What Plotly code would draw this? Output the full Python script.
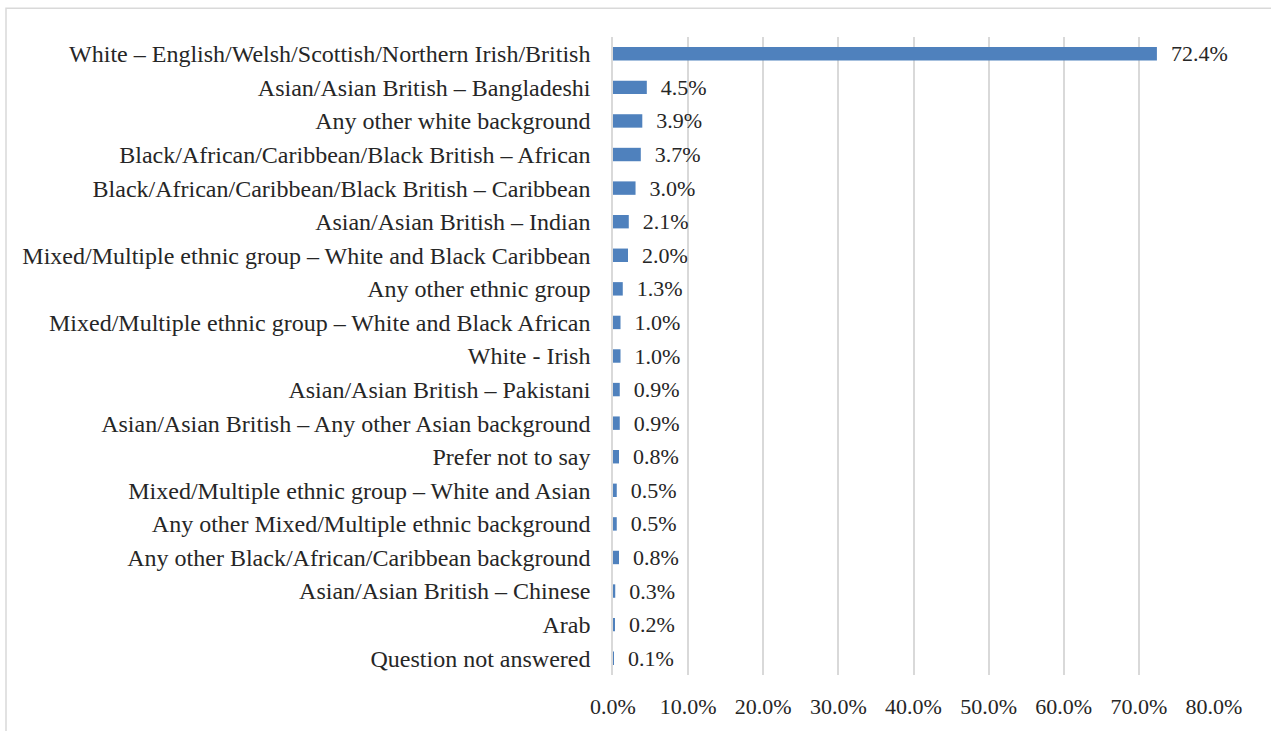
import plotly.graph_objects as go

categories = [
    "White – English/Welsh/Scottish/Northern Irish/British",
    "Asian/Asian British – Bangladeshi",
    "Any other white background",
    "Black/African/Caribbean/Black British – African",
    "Black/African/Caribbean/Black British – Caribbean",
    "Asian/Asian British – Indian",
    "Mixed/Multiple ethnic group – White and Black Caribbean",
    "Any other ethnic group",
    "Mixed/Multiple ethnic group – White and Black African",
    "White - Irish",
    "Asian/Asian British – Pakistani",
    "Asian/Asian British – Any other Asian background",
    "Prefer not to say",
    "Mixed/Multiple ethnic group – White and Asian",
    "Any other Mixed/Multiple ethnic background",
    "Any other Black/African/Caribbean background",
    "Asian/Asian British – Chinese",
    "Arab",
    "Question not answered",
]
values = [72.4, 4.5, 3.9, 3.7, 3.0, 2.1, 2.0, 1.3, 1.0, 1.0, 0.9, 0.9, 0.8, 0.5, 0.5, 0.8, 0.3, 0.2, 0.1]
x_ticks = [0, 10, 20, 30, 40, 50, 60, 70, 80]
x_tick_labels = ["0.0%", "10.0%", "20.0%", "30.0%", "40.0%", "50.0%", "60.0%", "70.0%", "80.0%"]

FONT = "Liberation Serif, Times New Roman, serif"
TXT = "#262626"
W, H = 1271, 731
L, R, T, B = 613, 57, 37, 51

fig = go.Figure()
fig.add_trace(go.Bar(
    x=values,
    y=categories,
    orientation="h",
    width=0.4,
    marker=dict(color="#4F81BD", line=dict(width=0)),
    text=["\u00a0\u00a0%.1f%%" % v for v in values],
    textposition="outside",
    constraintext="none",
    textfont=dict(family=FONT, size=22, color=TXT),
    cliponaxis=False,
    hoverinfo="skip",
))

pw = W - L - R
ph = H - T - B
fig.update_layout(
    width=W, height=H,
    margin=dict(l=L, r=R, t=T, b=B, pad=0),
    paper_bgcolor="white",
    plot_bgcolor="white",
    showlegend=False,
    font=dict(family=FONT, size=22, color=TXT),
    xaxis=dict(
        range=[0, 80],
        tickvals=x_ticks,
        ticktext=x_tick_labels,
        showgrid=True,
        gridcolor="#D9D9D9",
        gridwidth=1.5,
        zeroline=False,
        showline=False,
        ticks="",
        ticklabelstandoff=16,
        tickfont=dict(family=FONT, size=22, color=TXT),
        fixedrange=True,
    ),
    yaxis=dict(
        autorange="reversed",
        showgrid=False,
        zeroline=False,
        showline=True,
        linecolor="#D9D9D9",
        linewidth=1.5,
        ticks="",
        ticklabelstandoff=16,
        tickfont=dict(family=FONT, size=24, color=TXT),
        fixedrange=True,
    ),
    shapes=[dict(
        type="rect", xref="paper", yref="paper",
        x0=(6 - L) / pw, x1=(W + 30 - L) / pw,
        y0=(H - B - (H + 30)) / ph, y1=(H - B - 8) / ph,
        line=dict(color="#D9D9D9", width=1.5),
        fillcolor="rgba(0,0,0,0)",
        layer="below",
    )],
)

fig.write_html("out.html")
